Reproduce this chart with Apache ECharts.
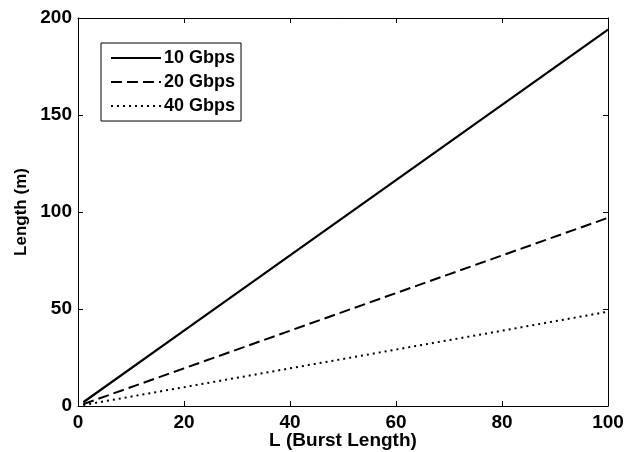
<!DOCTYPE html>
<html><head><meta charset="utf-8">
<script src="https://cdn.jsdelivr.net/npm/echarts@6/dist/echarts.min.js"></script>
<style>html,body{margin:0;padding:0;background:#fff}#c{width:624px;height:452px}</style>
</head><body><div id="c"></div>
<script>
const burstLength = [1, 20, 40, 60, 80, 100];
const len10 = [1.94, 38.8, 77.6, 116.4, 155.2, 194];
const len20 = [0.97, 19.4, 38.8, 58.2, 77.6, 97];
const len40 = [0.49, 9.7, 19.4, 29.1, 38.8, 48.6];
const seriesNames = ['10 Gbps', '20 Gbps', '40 Gbps'];
const xTicks = [0, 20, 40, 60, 80, 100];
const yTicks = [0, 50, 100, 150, 200];

const font = 'Liberation Sans, Arial, sans-serif';
const chart = echarts.init(document.getElementById('c'));
const pts = arr => burstLength.map((x, i) => [x, arr[i]]);
const axisCommon = {
  axisLine: {show: true, onZero: false, lineStyle: {color: '#000', width: 1}},
  axisTick: {show: true, inside: true, length: 5, lineStyle: {color: '#000'}},
  splitLine: {show: false}
};
const lbl = {fontFamily: font, fontSize: 19, fontWeight: 'bold', color: '#000'};
chart.setOption({
  animation: false,
  grid: {left: 78, right: 16, top: 18, bottom: 46, containLabel: false, outerBoundsMode: 'none'},
  legend: {
    left: 101, top: 43, orient: 'vertical',
    data: seriesNames,
    itemWidth: 50, itemHeight: 14, itemGap: 6,
    padding: [6, 6, 6, 9],
    borderColor: '#000', borderWidth: 1,
    itemStyle: {opacity: 0},
    textStyle: {fontFamily: font, fontSize: 18, fontWeight: 'bold', color: '#000', lineHeight: 18, padding: [0, 0, 0, -2]}
  },
  xAxis: [
    Object.assign({type: 'value', min: 0, max: 100, interval: 20, position: 'bottom',
      name: 'L (Burst Length)', nameLocation: 'middle', nameGap: 25, nameMoveOverlap: false,
      nameTextStyle: lbl,
      axisLabel: Object.assign({margin: 7, formatter: v => xTicks.includes(v) ? String(v) : ''}, lbl)}, axisCommon),
    Object.assign({type: 'value', min: 0, max: 100, interval: 20, position: 'top', axisLabel: {show: false}}, axisCommon)
  ],
  yAxis: [
    Object.assign({type: 'value', min: 0, max: 200, interval: 50, position: 'left',
      name: 'Length (m)', nameLocation: 'middle', nameGap: 48, nameRotate: 90, nameMoveOverlap: false,
      nameTextStyle: Object.assign({}, lbl, {fontSize: 17}),
      axisLabel: Object.assign({margin: 6, formatter: v => yTicks.includes(v) ? String(v) : ''}, lbl)}, axisCommon),
    Object.assign({type: 'value', min: 0, max: 200, interval: 50, position: 'right', axisLabel: {show: false}}, axisCommon)
  ],
  series: [
    {name: seriesNames[0], type: 'line', data: pts(len10), symbol: 'none', color: '#000',
      lineStyle: {color: '#000', width: 2.2, type: 'solid'}},
    {name: seriesNames[1], type: 'line', data: pts(len20), symbol: 'none', color: '#000',
      lineStyle: {color: '#000', width: 2, type: [11, 5]}},
    {name: seriesNames[2], type: 'line', data: pts(len40), symbol: 'none', color: '#000',
      lineStyle: {color: '#000', width: 2, type: [2, 4]}}
  ]
});
</script></body></html>
